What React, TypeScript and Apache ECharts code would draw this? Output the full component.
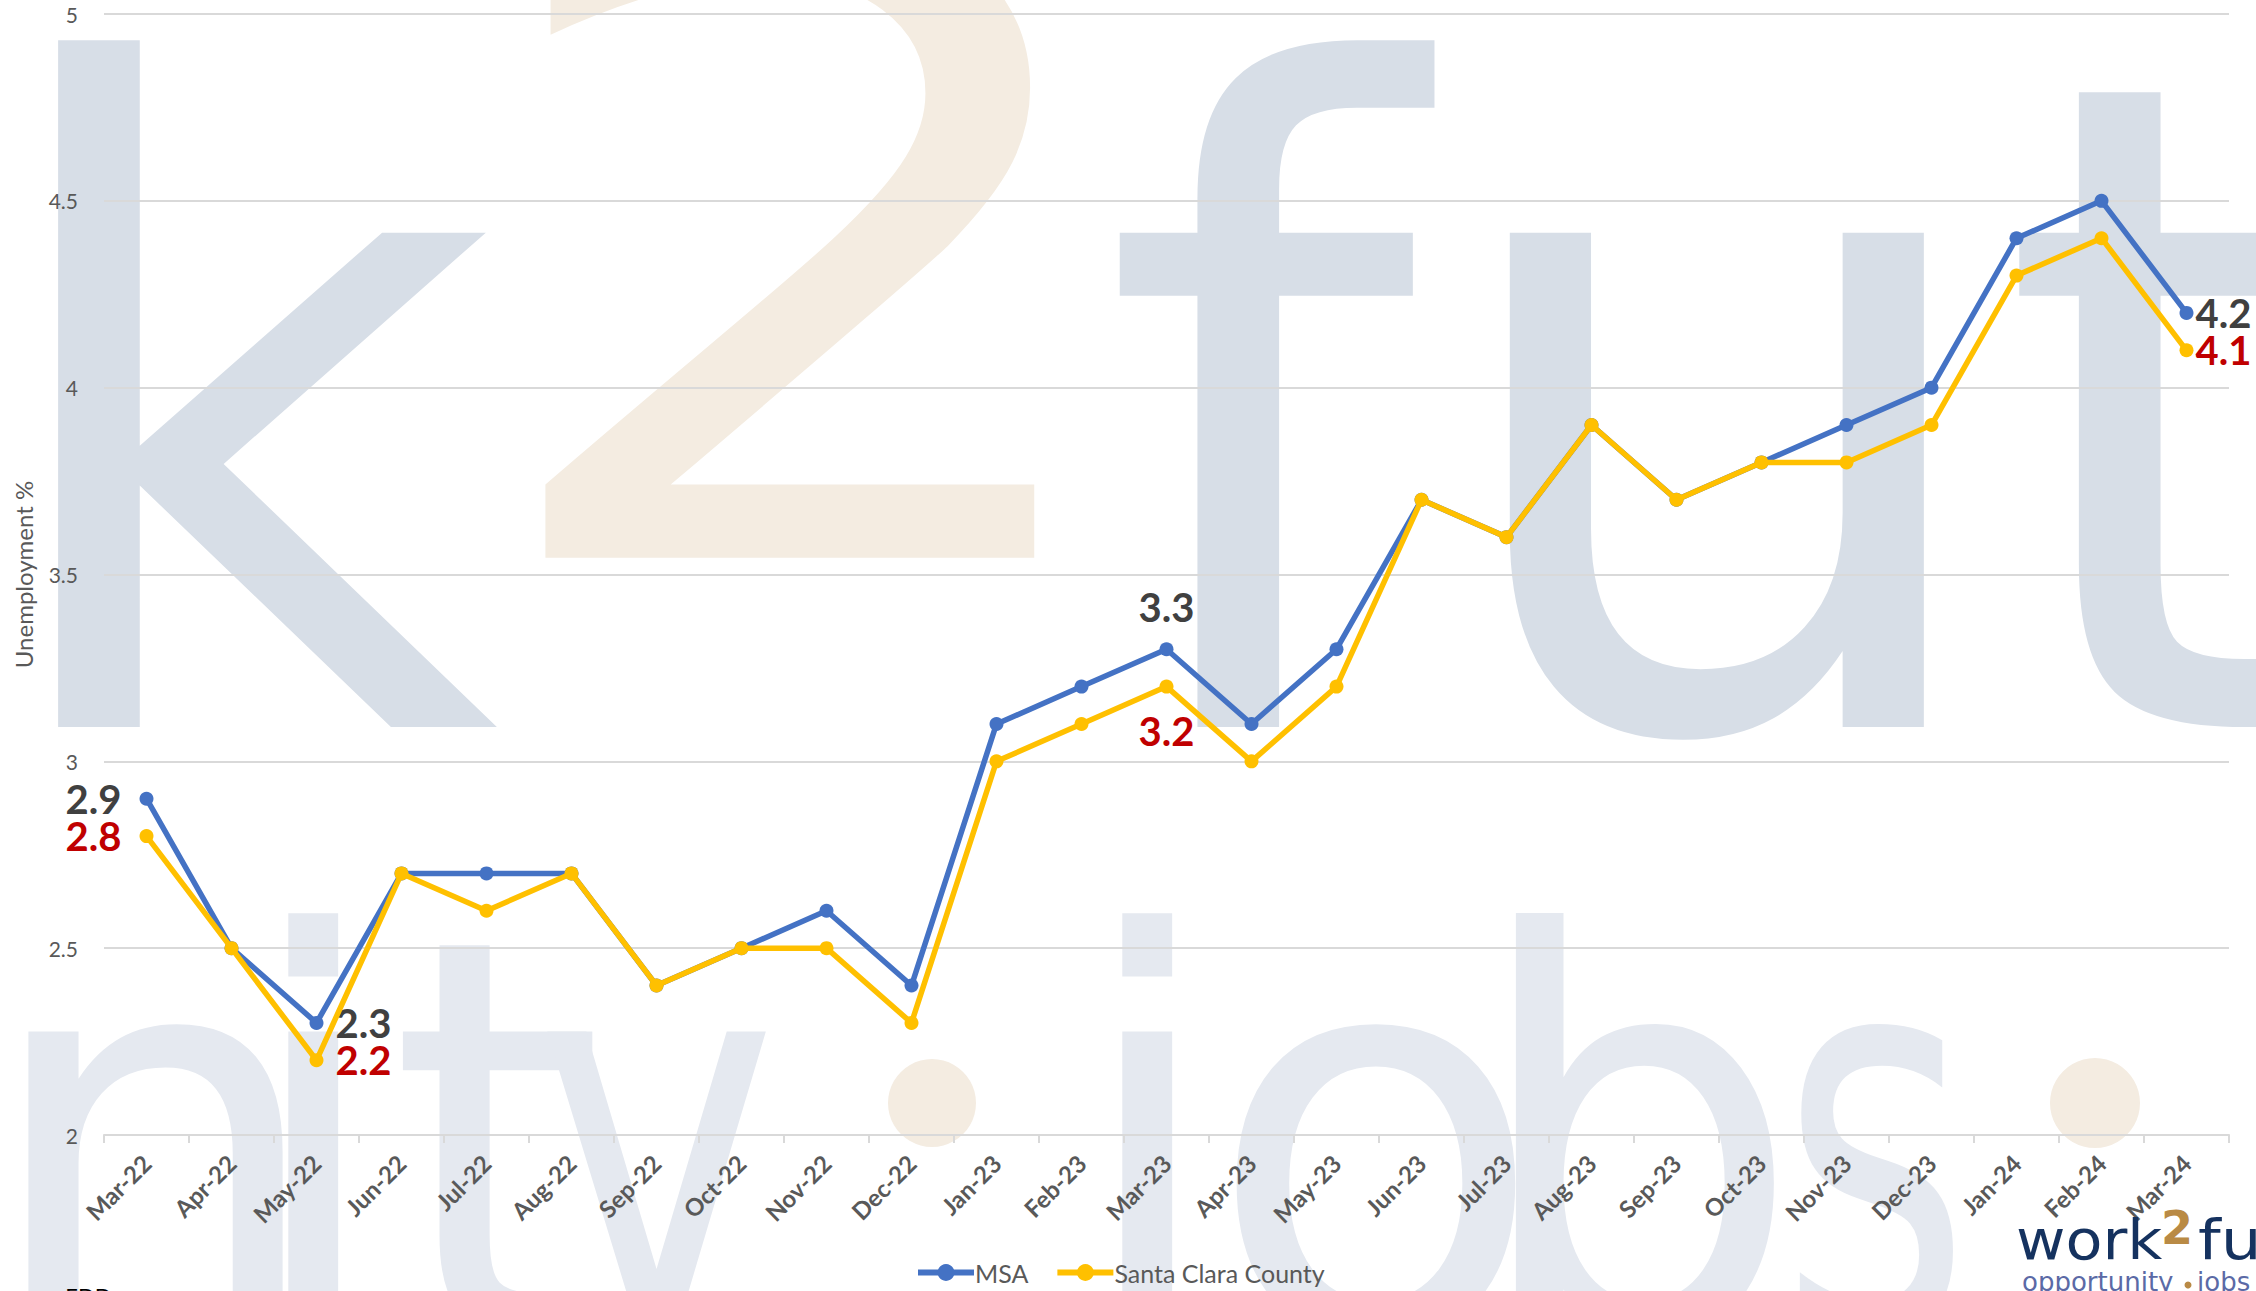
import React, { useEffect, useRef } from 'react';
import * as echarts from 'echarts';

const categories = [
  'Mar-22', 'Apr-22', 'May-22', 'Jun-22', 'Jul-22', 'Aug-22', 'Sep-22', 'Oct-22', 'Nov-22', 'Dec-22',
  'Jan-23', 'Feb-23', 'Mar-23', 'Apr-23', 'May-23', 'Jun-23', 'Jul-23', 'Aug-23', 'Sep-23', 'Oct-23',
  'Nov-23', 'Dec-23', 'Jan-24', 'Feb-24', 'Mar-24',
];
const msaValues = [
  2.9, 2.5, 2.3, 2.7, 2.7, 2.7, 2.4, 2.5, 2.6, 2.4,
  3.1, 3.2, 3.3, 3.1, 3.3, 3.7, 3.6, 3.9, 3.7, 3.8,
  3.9, 4.0, 4.4, 4.5, 4.2,
];
const santaClaraValues = [
  2.8, 2.5, 2.2, 2.7, 2.6, 2.7, 2.4, 2.5, 2.5, 2.3,
  3.0, 3.1, 3.2, 3.0, 3.2, 3.7, 3.6, 3.9, 3.7, 3.8,
  3.8, 3.9, 4.3, 4.4, 4.1,
];
const seriesNames = ['MSA', 'Santa Clara County'];
const yMin = 2;
const yMax = 5;
const yInterval = 0.5;
const yAxisTitle = 'Unemployment %';
const sourceNote = 'Source: EDD';

// which points carry a value label (index in the series)
const msaLabelled = [0, 2, 12, 24];
const santaClaraLabelled = [0, 2, 12, 24];

const BLUE = '#4472C4';
const YELLOW = '#FFC000';
const AXIS_GREY = '#595959';
const WM_TOP = '#d7dee7';
const WM_BOTTOM = '#e5e9f0';
const WM_BEIGE = '#f4ece1';

const msaLabelStyle: Record<number, any> = {
  0: { position: 'left', distance: 18 },
  2: { position: 'right', distance: 12 },
  12: { position: 'top', distance: 15 },
  24: { position: 'right', distance: 2 },
};
const scLabelStyle: Record<number, any> = {
  0: { position: 'left', distance: 18 },
  2: { position: 'right', distance: 12 },
  12: { position: 'bottom', distance: 17 },
  24: { position: 'right', distance: 2 },
};

function buildData(values: number[], labelled: number[], styles: Record<number, any>, color: string) {
  return values.map((v, i) => {
    if (labelled.indexOf(i) < 0) return v;
    const s = styles[i];
    return {
      value: v,
      label: {
        show: true,
        position: s.position,
        distance: s.distance,
        color,
        fontFamily: 'Lato',
        fontWeight: 'bold',
        fontSize: 40,
        formatter: (p: any) => Number(p.value).toFixed(1),
      },
    };
  });
}

function wmText(text: string, x: number, y: number, size: number, fill: string, sx = 1, align = 'left') {
  return {
    type: 'text',
    x,
    y,
    scaleX: sx,
    z: -10,
    silent: true,
    style: {
      text,
      fontFamily: 'DejaVu Sans',
      fontSize: size,
      fill,
      textAlign: align,
      textVerticalAlign: 'middle',
    },
  };
}

function logoText(text: string, x: number, y: number, size: number, fill: string, weight = 'normal', sx = 1) {
  return {
    type: 'text',
    x,
    y,
    scaleX: sx,
    z: 10,
    silent: true,
    style: {
      text,
      fontFamily: 'DejaVu Sans',
      fontSize: size,
      fontWeight: weight,
      fill,
      textAlign: 'left',
      textVerticalAlign: 'middle',
    },
  };
}

export default function App() {
  const ref = useRef<HTMLDivElement>(null);

  useEffect(() => {
    document.body.style.margin = '0';
    if (!ref.current) return;
    const chart = echarts.init(ref.current, undefined, { renderer: 'svg' });

    const topSize = 904;
    const topY = 414;
    const botSize = 555;
    const botY = 1143;

    const graphic: any[] = [
      // large watermark, top row
      wmText('k', -24, topY, topSize, WM_TOP),
      wmText('2', 804, 253, 880, WM_BEIGE, 1.2, 'center'),
      wmText('f', 1099, topY, topSize, WM_TOP),
      wmText('u', 1433, topY, topSize, WM_TOP),
      wmText('t', 1995, topY, topSize, WM_TOP),
      // bottom row
      wmText('n', -22, botY, botSize, WM_BOTTOM),
      wmText('i', 236, botY, botSize, WM_BOTTOM),
      wmText('t', 388, botY, botSize, WM_BOTTOM),
      wmText('y', 535, botY, botSize, WM_BOTTOM, 0.74),
      wmText('j', 1070, botY, botSize, WM_BOTTOM),
      wmText('o', 1206, botY, botSize, WM_BOTTOM),
      wmText('b', 1468, botY, botSize, WM_BOTTOM, 0.95),
      wmText('s', 1780, botY, botSize, WM_BOTTOM, 0.66),
      { type: 'circle', z: -10, silent: true, shape: { cx: 932, cy: 1103, r: 44 }, style: { fill: WM_BEIGE } },
      { type: 'circle', z: -10, silent: true, shape: { cx: 2095, cy: 1103, r: 45 }, style: { fill: WM_BEIGE } },
      // small logo bottom-right
      logoText('work', 2016, 1240, 56, '#15325f', 'normal', 1.08),
      logoText('2', 2161, 1228, 46, '#b98a45', 'bold'),
      logoText('future', 2198, 1240, 56, '#15325f', 'normal', 1.15),
      logoText('opportunity', 2022, 1282, 26, '#5b6aa6'),
      { type: 'circle', z: 10, silent: true, shape: { cx: 2188, cy: 1285, r: 3.5 }, style: { fill: '#b98a45' } },
      logoText('jobs', 2197, 1282, 26, '#5b6aa6'),
      // source note (cut by page bottom)
      {
        type: 'text', x: -12, y: 1284, z: 10, silent: true,
        style: { text: sourceNote, fontFamily: 'Lato', fontSize: 22, fill: '#000000', textAlign: 'left', textVerticalAlign: 'top' },
      },
    ];

    chart.setOption({
      animation: false,
      backgroundColor: '#ffffff',
      grid: { left: 104, right: 27, top: 14, bottom: 156, containLabel: false },
      legend: {
        left: 910,
        top: 1255,
        itemWidth: 56,
        itemHeight: 21,
        itemGap: 26,
        lineStyle: { width: 6 },
        textStyle: { fontFamily: 'Lato', fontSize: 25, color: AXIS_GREY, padding: [0, 0, 0, -4] },
        data: seriesNames,
      },
      xAxis: {
        type: 'category',
        data: categories,
        boundaryGap: true,
        axisLine: { lineStyle: { color: '#d9d9d9', width: 2 } },
        axisTick: { show: true, alignWithLabel: false, length: 8, lineStyle: { color: '#d9d9d9', width: 2 } },
        axisLabel: {
          rotate: 45,
          margin: 24,
          interval: 0,
          fontFamily: 'Lato',
          fontWeight: 'bold',
          fontSize: 24,
          color: AXIS_GREY,
        },
        splitLine: { show: false },
      },
      yAxis: {
        type: 'value',
        min: yMin,
        max: yMax,
        interval: yInterval,
        name: yAxisTitle,
        nameLocation: 'middle',
        nameRotate: 90,
        nameGap: 69,
        nameTextStyle: { fontFamily: 'Lato', fontSize: 24, color: AXIS_GREY },
        axisLine: { show: false },
        axisTick: { show: false },
        axisLabel: { margin: 26, fontFamily: 'Lato', fontSize: 21, color: AXIS_GREY },
        splitLine: { lineStyle: { color: '#d9d9d9', width: 2 } },
      },
      graphic,
      series: [
        {
          name: seriesNames[0],
          type: 'line',
          data: buildData(msaValues, msaLabelled, msaLabelStyle, '#404040'),
          symbol: 'circle',
          symbolSize: 14,
          lineStyle: { color: BLUE, width: 5.5 },
          itemStyle: { color: BLUE },
          label: { show: false },
          z: 3,
        },
        {
          name: seriesNames[1],
          type: 'line',
          data: buildData(santaClaraValues, santaClaraLabelled, scLabelStyle, '#C00000'),
          symbol: 'circle',
          symbolSize: 14,
          lineStyle: { color: YELLOW, width: 5.5 },
          itemStyle: { color: YELLOW },
          label: { show: false },
          z: 4,
        },
      ],
    });

    return () => chart.dispose();
  }, []);

  return (
    <div
      ref={ref}
      style={{ position: 'fixed', left: 0, top: 0, width: 2256, height: 1291, overflow: 'hidden' }}
    />
  );
}
